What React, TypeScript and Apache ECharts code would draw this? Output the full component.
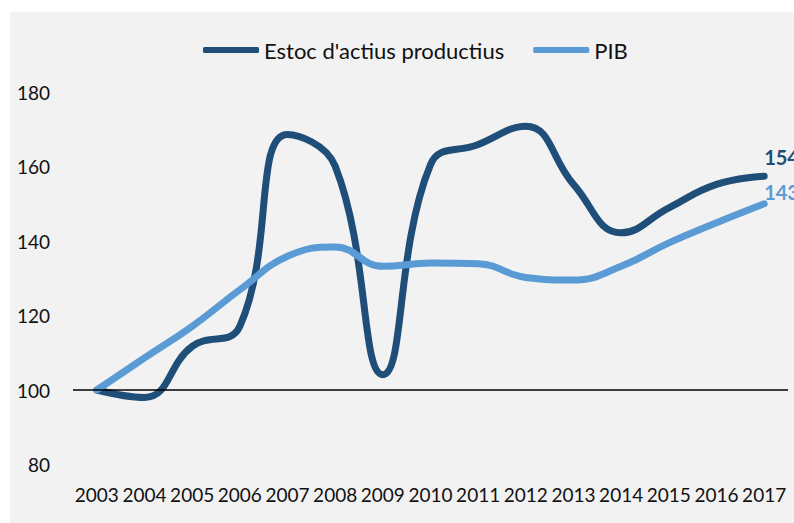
import React, { useEffect, useRef } from "react";
import * as echarts from "echarts";

const years = ["2003", "2004", "2005", "2006", "2007", "2008", "2009", "2010", "2011", "2012", "2013", "2014", "2015", "2016", "2017"];
const estoc = [100, 98, 111.7, 117.1, 168.6, 160.1, 104.1, 160.5, 165.9, 170.8, 155.2, 142.2, 148.9, 155.2, 157.4];
const pib = [100, 108.6, 117.1, 126.9, 135.9, 138.4, 133.2, 134.1, 133.9, 130.2, 129.5, 133.2, 139.5, 144.9, 150.0];
const endLabels = ["154", "143"];
const seriesNames = ["Estoc d'actius productius", "PIB"];

const DARK = "#1f4e79";
const LIGHT = "#5b9bd5";
const FONT = "Lato";

function endLabel(text: string, color: string, dy: number) {
  return {
    show: true,
    formatter: text,
    offset: [0, dy],
    distance: 0,
    color,
    fontFamily: FONT,
    fontWeight: "bold",
    fontSize: 20,
  };
}

export default function App() {
  const ref = useRef<HTMLDivElement>(null);
  useEffect(() => {
    if (!ref.current) return;
    const chart = echarts.init(ref.current, null, { renderer: "svg" });
    chart.setOption({
      animation: false,
      backgroundColor: "#f2f2f2",
      textStyle: { fontFamily: FONT },
      legend: {
        top: 22,
        left: 188,
        icon: "roundRect",
        itemWidth: 56,
        itemHeight: 6,
        itemGap: 29,
        textStyle: { fontSize: 22, color: "#111", fontFamily: FONT },
        data: seriesNames,
      },
      grid: { left: 63, right: 6, top: 80, bottom: 58.5, containLabel: false },
      xAxis: {
        type: "category",
        data: years,
        boundaryGap: true,
        axisLine: { show: false },
        axisTick: { show: false },
        axisLabel: { fontSize: 19, color: "#111", margin: 20, fontFamily: FONT, interval: 0 },
      },
      yAxis: {
        type: "value",
        min: 80,
        max: 180,
        interval: 20,
        splitLine: { show: false },
        axisLine: { show: false },
        axisTick: { show: false },
        axisLabel: { fontSize: 19, color: "#111", margin: 23, fontFamily: FONT },
      },
      series: [
        {
          name: seriesNames[0],
          type: "line",
          data: estoc,
          smooth: 0.45,
          smoothConstraint: false,
          symbol: "none",
          lineStyle: { color: DARK, width: 7, cap: "round", join: "round" },
          itemStyle: { color: DARK },
          endLabel: endLabel(endLabels[0], DARK, -19),
          z: 3,
          markLine: {
            silent: true,
            symbol: "none",
            label: { show: false },
            lineStyle: { color: "#000", width: 1.5, type: "solid" },
            data: [{ yAxis: 100 }],
          },
        },
        {
          name: seriesNames[1],
          type: "line",
          data: pib,
          smooth: 0.45,
          smoothConstraint: false,
          symbol: "none",
          lineStyle: { color: LIGHT, width: 7, cap: "round", join: "round" },
          itemStyle: { color: LIGHT },
          endLabel: endLabel(endLabels[1], LIGHT, -12),
          z: 4,
        },
      ],
    });
    return () => chart.dispose();
  }, []);
  return (
    <div
      ref={ref}
      style={{ position: "fixed", left: 10, top: 12, width: 784, height: 511 }}
    />
  );
}
